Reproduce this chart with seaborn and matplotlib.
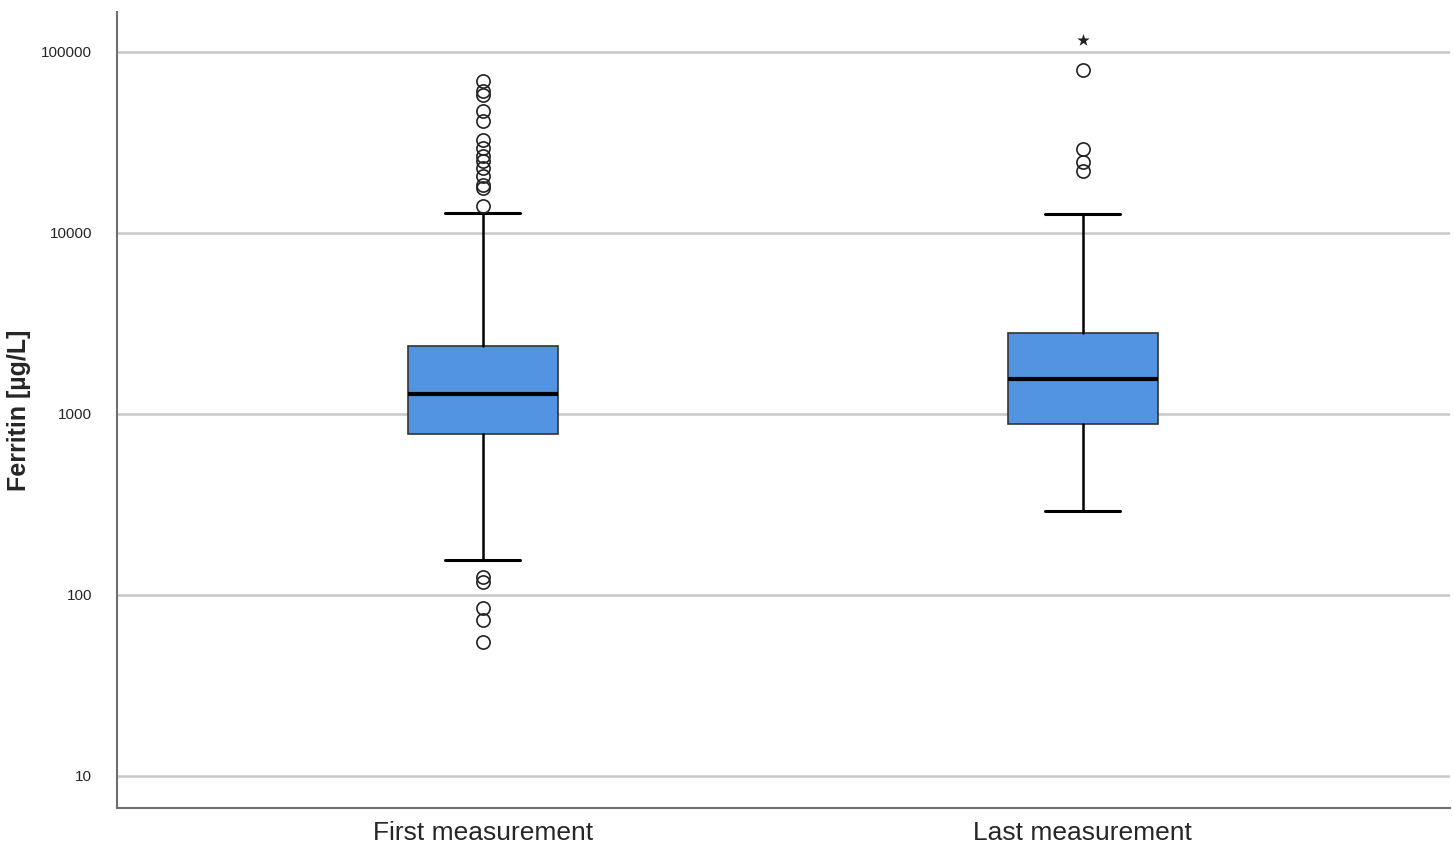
import numpy as np
import matplotlib
matplotlib.use("Agg")
import matplotlib.pyplot as plt
import seaborn as sns

# summary values (µg/L)
groups = ["First measurement", "Last measurement"]
medians = [1290, 1560]
q1 = [775, 880]
q3 = [2375, 2800]
whisker_low = [156, 291]
whisker_high = [12900, 12700]
outliers_first = [68500, 60400, 57800, 46800, 41200, 32700, 29500, 26400, 24800,
                  22900, 20500, 18400, 17700, 14000, 126, 118, 84.7, 72.8, 55.2]
outliers_last = [79500, 29000, 24500, 22000]
extremes_last = [116000]

sns.set_style("white")
plt.rcParams['font.family'] = ['Liberation Sans', 'DejaVu Sans']

fig = plt.figure(figsize=(14.53, 8.5), dpi=100)
ax = fig.add_axes([0.0805, 0.0494, 0.9175, 0.9366])

stats = []
for i, name in enumerate(groups):
    stats.append({
        "label": name,
        "med": medians[i],
        "q1": q1[i],
        "q3": q3[i],
        "whislo": whisker_low[i],
        "whishi": whisker_high[i],
        "fliers": [outliers_first, outliers_last][i],
    })

box_color = "#5294e2"
ax.bxp(stats, positions=[0, 1], widths=0.25, patch_artist=True,
       boxprops=dict(facecolor=box_color, edgecolor="#333333", linewidth=1.2),
       medianprops=dict(color="black", linewidth=3),
       whiskerprops=dict(color="black", linewidth=1.8),
       capprops=dict(color="black", linewidth=2.2),
       flierprops=dict(marker="o", markerfacecolor="none", markeredgecolor="#222222",
                       markersize=9.5, markeredgewidth=1.2),
       zorder=3)

# extreme values (SPSS star)
ax.scatter([1] * len(extremes_last), extremes_last, marker="*", s=90,
           color="#222222", zorder=4, linewidths=0)

ax.set_yscale("log")
ax.set_ylim(6.65, 166000)
ax.set_xlim(-0.61, 1.612)
yt = [10, 100, 1000, 10000, 100000]
ax.set_yticks(yt)
ax.set_yticklabels([str(v) for v in yt])
ax.yaxis.set_minor_locator(matplotlib.ticker.NullLocator())
ax.set_xticks([0, 1])
ax.set_xticklabels(groups, fontsize=19)
ax.tick_params(axis="both", length=0)
ax.tick_params(axis="y", labelsize=11, pad=18)
ax.tick_params(axis="x", pad=9)

ax.grid(axis="y", color="#c8c8c8", linewidth=1.8, zorder=0)
ax.set_axisbelow(True)
for side in ["top", "right"]:
    ax.spines[side].set_visible(False)
for side in ["left", "bottom"]:
    ax.spines[side].set_color("#6e6e6e")
    ax.spines[side].set_linewidth(1.5)

ax.set_ylabel("Ferritin [µg/L]", fontsize=18, fontweight="bold")
ax.yaxis.set_label_coords(-0.0645, 0.5)
ax.set_xlabel("")

fig.savefig("out.png", dpi=100)
